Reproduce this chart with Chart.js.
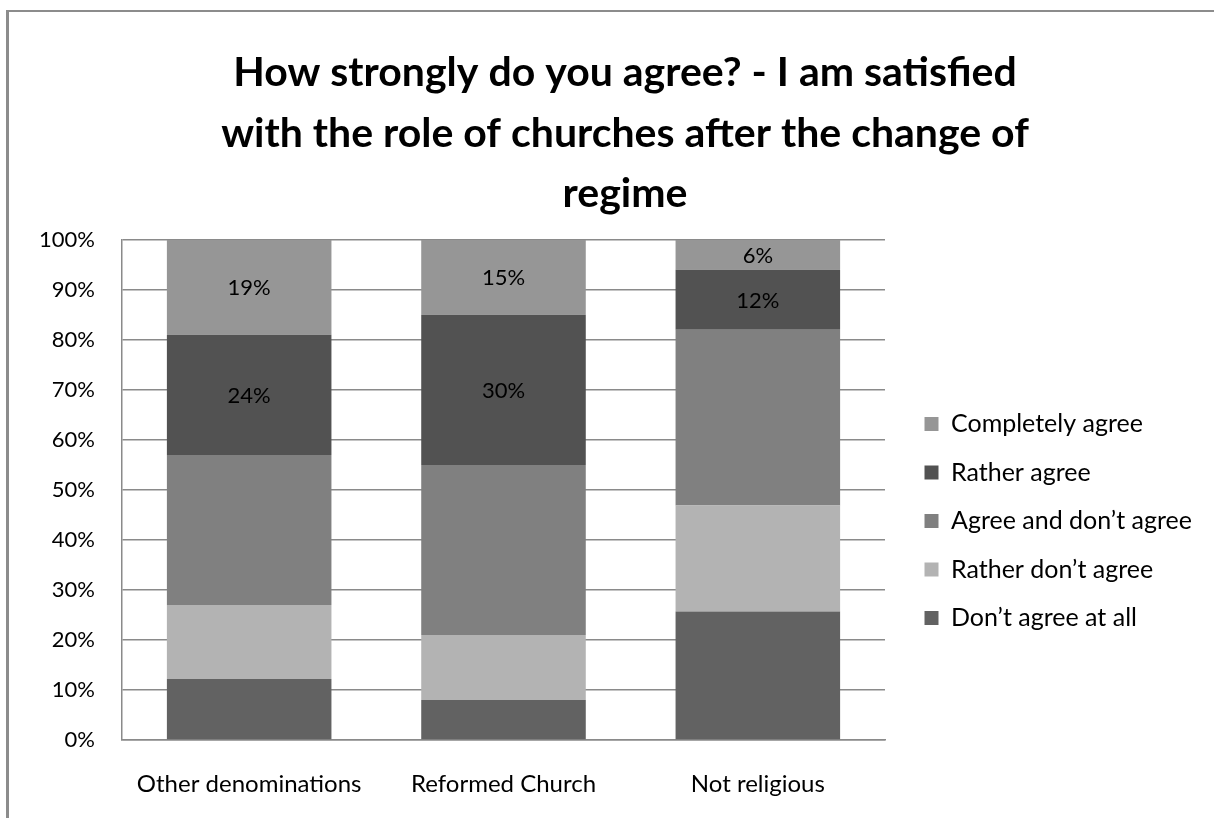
<!DOCTYPE html>
<html>
<head>
<meta charset="utf-8">
<script src="https://cdn.jsdelivr.net/npm/chart.js@4.4.1/dist/chart.umd.min.js"></script>
<style>
  html, body { margin: 0; padding: 0; background: #ffffff; overflow: hidden; }
  #wrap { position: relative; width: 1214px; height: 818px; }
  #frame { position: absolute; left: 6px; top: 10px; width: 1400px; height: 1000px;
           border-left: 3px solid #8c8c8c; border-top: 2px solid #8c8c8c; pointer-events: none; }
  canvas { position: absolute; left: 0; top: 0; display: block; }
</style>
</head>
<body>
<div id="wrap">
  <canvas id="chart" width="1214" height="818"></canvas>
  <div id="frame"></div>
</div>
<script>
// Survey answers by religious affiliation (share of respondents, %)
const categories = ['Other denominations', 'Reformed Church', 'Not religious'];
const seriesNames = ['Don\u2019t agree at all', 'Rather don\u2019t agree', 'Agree and don\u2019t agree', 'Rather agree', 'Completely agree'];
const dontAgreeAtAll  = [12.2, 8, 25.7];
const ratherDontAgree = [14.8, 13, 21.2];
const agreeAndDont    = [30, 34, 35.1];
const ratherAgree     = [24, 30, 12];
const completelyAgree = [19, 15, 6];
const yTicks = [0, 10, 20, 30, 40, 50, 60, 70, 80, 90, 100];
const titleLines = ['How strongly do you agree? - I am satisfied', 'with the role of churches after the change of', 'regime'];

const seriesColors = ['#626262', '#b3b3b3', '#808080', '#525252', '#969696'];
const labelledSeries = [3, 4];
const FONT = 'Lato, "Open Sans", sans-serif';

const seriesValues = [dontAgreeAtAll, ratherDontAgree, agreeAndDont, ratherAgree, completelyAgree];
const datasets = seriesValues.map((vals, i) => ({
  label: seriesNames[i],
  data: vals,
  backgroundColor: seriesColors[i],
  borderColor: seriesColors[i],
  borderWidth: 0,
  barPercentage: 0.647,
  categoryPercentage: 1.0
}));

// Value labels centred in the segments of the upper two series
const segmentLabels = {
  id: 'segmentLabels',
  afterDatasetsDraw(chart) {
    const ctx = chart.ctx;
    ctx.save();
    ctx.font = '22px ' + FONT;
    ctx.fillStyle = '#000000';
    ctx.textAlign = 'center';
    ctx.textBaseline = 'middle';
    labelledSeries.forEach(di => {
      const meta = chart.getDatasetMeta(di);
      meta.data.forEach((bar, j) => {
        const p = bar.getProps(['x', 'y', 'base'], true);
        const v = chart.data.datasets[di].data[j];
        ctx.fillText(Math.round(v) + '%', p.x, (p.y + p.base) / 2 + 1);
      });
    });
    ctx.restore();
  }
};

// Fixed plot frame: legend column width, and offsets for title and legend items
const frameLayout = {
  id: 'frameLayout',
  beforeLayout(chart) {
    const lg = chart.legend;
    if (lg && !lg._fixedWidth) {
      const fit = lg.fit;
      lg.fit = function () { fit.call(this); this.width = 1214 - 885; };
      lg._fixedWidth = true;
    }
  },
  afterLayout(chart) {
    const t = chart.titleBlock;
    if (t) { t.left += 18; t.right += 18; }
    const lg = chart.legend;
    if (lg) { lg.left += 16; lg.right += 16; lg.top += 121; lg.bottom += 121; }
  }
};

new Chart(document.getElementById('chart'), {
  type: 'bar',
  data: { labels: categories, datasets: datasets },
  plugins: [segmentLabels, frameLayout],
  options: {
    responsive: false,
    animation: false,
    devicePixelRatio: 1,
    layout: { padding: { left: 0, right: 0, top: 0, bottom: 18 } },
    plugins: {
      title: {
        display: true,
        text: titleLines,
        color: '#000000',
        font: { family: FONT, size: 41, weight: 'bold', lineHeight: 1.47 },
        padding: { top: 43, bottom: 16 }
      },
      legend: {
        position: 'right',
        reverse: true,
        labels: {
          color: '#000000',
          font: { family: FONT, size: 25 },
          boxWidth: 14,
          boxHeight: 14,
          padding: 23.5
        }
      },
      tooltip: { enabled: false }
    },
    scales: {
      x: {
        stacked: true,
        grid: { display: false, drawTicks: false },
        border: { display: true, color: '#8a8a8a', width: 1.5 },
        ticks: { color: '#000000', font: { family: FONT, size: 24 }, padding: 30, maxRotation: 0, autoSkip: false },
        afterFit(s) { s.height = 60; }
      },
      y: {
        stacked: true,
        min: 0,
        max: 100,
        afterBuildTicks(s) { s.ticks = yTicks.map(v => ({ value: v })); },
        grid: { color: '#8a8a8a', lineWidth: 1.5, drawTicks: false },
        border: { display: true, color: '#8a8a8a', width: 1.5 },
        ticks: { color: '#000000', font: { family: FONT, size: 22 }, padding: 27, callback: v => v + '%' },
        afterFit(s) { s.width = 122; }
      }
    }
  }
});
</script>
</body>
</html>
